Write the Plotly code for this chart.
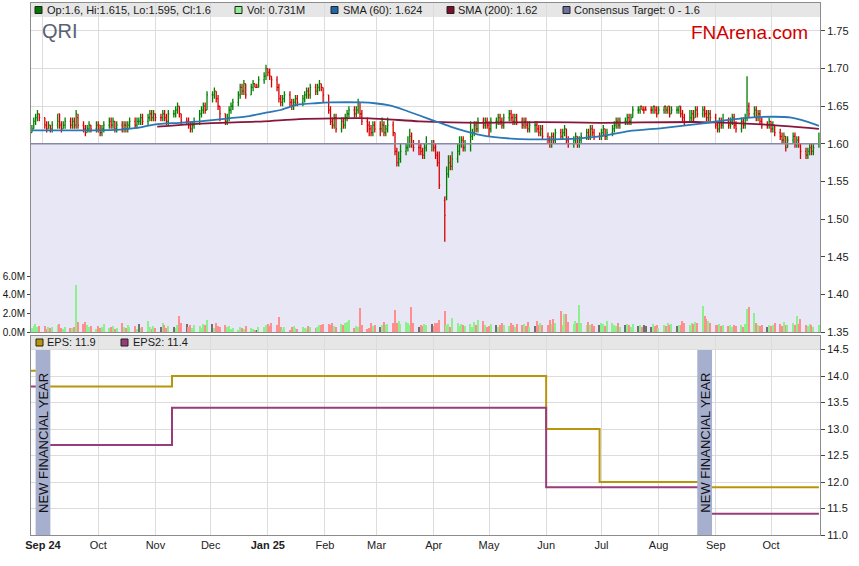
import plotly.graph_objects as go
import pandas as pd

# ------------------------------------------------------------------ data
opens = [
 1.615,1.620,1.630,1.635,1.640, 1.635,1.625,1.620,1.625,1.620, 1.625,1.640,1.625,1.620,1.625,
 1.630,1.625,1.630,1.625,1.635, 1.625,1.620,1.615,1.620,1.625, 1.620,1.625,1.625,1.615,1.620,
 1.625,1.630,1.625,1.630,1.620, 1.625,1.620,1.625,1.620,1.625, 1.630,1.625,1.630,1.630,1.635,
 1.630,1.635,1.640,1.635,1.640, 1.635,1.635,1.640,1.635,1.630, 1.640,1.640,1.645,1.650,1.640,
 1.630,1.630,1.625,1.620,1.625, 1.630,1.640,1.645,1.650,1.645, 1.665,1.665,1.670,1.660,1.650,
 1.640,1.630,1.635,1.645,1.650, 1.655,1.665,1.675,1.670,1.680, 1.665,1.675,1.680,1.675,1.675,
 1.685,1.690,1.700,1.695,1.690, 1.685,1.675,1.660,1.655,1.660, 1.665,1.655,1.650,1.655,1.660,
 1.655,1.660,1.665,1.670,1.665, 1.675,1.670,1.675,1.680,1.675, 1.665,1.645,1.630,1.625,1.635,
 1.620,1.630,1.625,1.635,1.640, 1.645,1.640,1.645,1.655,1.640, 1.630,1.625,1.620,1.615,1.625,
 1.620,1.620,1.625,1.615,1.620, 1.625,1.615,1.590,1.575,1.580, 1.590,1.595,1.600,1.610,1.600,
 1.595,1.595,1.590,1.585,1.595, 1.600,1.600,1.595,1.585,1.575, 1.525,1.530,1.560,1.575,1.570,
 1.580,1.590,1.600,1.605,1.595, 1.600,1.610,1.615,1.625,1.620, 1.630,1.625,1.630,1.625,1.620,
 1.630,1.630,1.635,1.630,1.625, 1.635,1.640,1.635,1.630,1.635, 1.630,1.625,1.630,1.625,1.620,
 1.625,1.625,1.620,1.615,1.620, 1.610,1.605,1.600,1.610,1.605, 1.615,1.610,1.615,1.620,1.605,
 1.600,1.605,1.610,1.600,1.605, 1.610,1.615,1.610,1.620,1.615, 1.610,1.610,1.615,1.620,1.610,
 1.615,1.620,1.625,1.630,1.625, 1.630,1.630,1.635,1.630,1.635, 1.645,1.645,1.650,1.645,1.645,
 1.645,1.645,1.650,1.645,1.640, 1.645,1.650,1.645,1.650,1.640, 1.645,1.645,1.650,1.640,1.635,
 1.630,1.635,1.640,1.635,1.645, 1.640,1.645,1.640,1.635,1.640, 1.635,1.625,1.620,1.630,1.625,
 1.630,1.625,1.630,1.635,1.625, 1.620,1.630,1.625,1.635,1.650, 1.640,1.645,1.635,1.640,1.630,
 1.625,1.625,1.630,1.620,1.625, 1.615,1.610,1.605,1.610,1.595, 1.605,1.610,1.600,1.605,1.600,
 1.590,1.585,1.590,1.595,1.590, 1.600,
]
highs = [
 1.625,1.635,1.640,1.645,1.640, 1.635,1.630,1.630,1.625,1.630, 1.640,1.640,1.630,1.630,1.635,
 1.635,1.635,1.635,1.645,1.640, 1.630,1.625,1.625,1.630,1.625, 1.630,1.630,1.625,1.625,1.630,
 1.635,1.635,1.635,1.630,1.630, 1.630,1.630,1.630,1.630,1.635, 1.635,1.635,1.635,1.640,1.640,
 1.640,1.645,1.645,1.645,1.640, 1.640,1.645,1.645,1.640,1.645, 1.645,1.650,1.655,1.650,1.640,
 1.635,1.635,1.630,1.630,1.635, 1.645,1.650,1.655,1.655,1.670, 1.670,1.675,1.670,1.665,1.650,
 1.640,1.640,1.650,1.655,1.660, 1.670,1.680,1.680,1.685,1.680, 1.680,1.685,1.680,1.680,1.690,
 1.695,1.705,1.700,1.700,1.690, 1.690,1.680,1.665,1.665,1.670, 1.670,1.660,1.660,1.665,1.665,
 1.665,1.670,1.675,1.675,1.680, 1.680,1.680,1.685,1.680,1.675, 1.665,1.650,1.635,1.640,1.640,
 1.635,1.635,1.640,1.645,1.650, 1.650,1.650,1.660,1.655,1.645, 1.635,1.630,1.625,1.630,1.630,
 1.630,1.635,1.630,1.625,1.635, 1.630,1.615,1.595,1.590,1.600, 1.600,1.610,1.620,1.615,1.605,
 1.605,1.600,1.595,1.600,1.610, 1.605,1.605,1.600,1.590,1.590, 1.530,1.570,1.585,1.585,1.590,
 1.600,1.610,1.610,1.610,1.605, 1.630,1.620,1.630,1.630,1.635, 1.635,1.635,1.635,1.630,1.635,
 1.635,1.640,1.640,1.635,1.640, 1.645,1.645,1.640,1.640,1.640, 1.635,1.635,1.635,1.630,1.630,
 1.630,1.630,1.625,1.625,1.625, 1.615,1.610,1.615,1.615,1.620, 1.620,1.620,1.625,1.620,1.610,
 1.610,1.615,1.610,1.610,1.615, 1.620,1.620,1.625,1.625,1.620, 1.615,1.620,1.625,1.620,1.620,
 1.625,1.630,1.635,1.635,1.635, 1.635,1.640,1.640,1.640,1.650, 1.650,1.650,1.650,1.650,1.650,
 1.650,1.650,1.650,1.650,1.650, 1.650,1.650,1.650,1.650,1.650, 1.650,1.650,1.650,1.645,1.640,
 1.645,1.645,1.645,1.650,1.650, 1.650,1.650,1.645,1.645,1.645, 1.640,1.630,1.635,1.635,1.640,
 1.635,1.635,1.640,1.640,1.630, 1.635,1.635,1.640,1.690,1.655, 1.650,1.650,1.645,1.645,1.635,
 1.630,1.635,1.630,1.630,1.625, 1.620,1.615,1.615,1.610,1.610, 1.615,1.615,1.610,1.610,1.600,
 1.595,1.595,1.600,1.600,1.600, 1.615,
]
lows = [
 1.615,1.620,1.625,1.630,1.630, 1.620,1.615,1.620,1.615,1.615, 1.620,1.620,1.615,1.620,1.620,
 1.620,1.620,1.620,1.620,1.620, 1.615,1.610,1.615,1.615,1.615, 1.615,1.615,1.610,1.610,1.615,
 1.620,1.620,1.620,1.615,1.615, 1.615,1.615,1.615,1.615,1.620, 1.620,1.620,1.625,1.625,1.625,
 1.625,1.630,1.630,1.630,1.630, 1.630,1.630,1.630,1.625,1.625, 1.635,1.635,1.640,1.635,1.625,
 1.625,1.620,1.615,1.615,1.620, 1.625,1.635,1.640,1.640,1.645, 1.655,1.660,1.655,1.645,1.630,
 1.625,1.625,1.630,1.640,1.645, 1.650,1.660,1.665,1.665,1.660, 1.665,1.670,1.675,1.675,1.675,
 1.680,1.685,1.690,1.685,1.675, 1.670,1.655,1.650,1.650,1.655, 1.650,1.645,1.645,1.650,1.650,
 1.650,1.655,1.660,1.660,1.660, 1.665,1.665,1.670,1.670,1.655, 1.640,1.625,1.620,1.620,1.615,
 1.615,1.620,1.620,1.630,1.635, 1.635,1.635,1.640,1.635,1.625, 1.615,1.610,1.610,1.610,1.615,
 1.610,1.615,1.610,1.610,1.615, 1.610,1.585,1.570,1.570,1.575, 1.585,1.590,1.595,1.595,1.590,
 1.585,1.585,1.580,1.580,1.590, 1.590,1.590,1.580,1.570,1.540, 1.470,1.525,1.555,1.565,1.565,
 1.575,1.585,1.595,1.590,1.590, 1.590,1.605,1.610,1.615,1.615, 1.620,1.620,1.620,1.610,1.615,
 1.620,1.625,1.625,1.620,1.620, 1.630,1.630,1.625,1.625,1.625, 1.620,1.620,1.620,1.615,1.615,
 1.615,1.615,1.610,1.610,1.605, 1.600,1.595,1.595,1.600,1.600, 1.605,1.605,1.610,1.600,1.595,
 1.595,1.600,1.595,1.595,1.600, 1.605,1.605,1.605,1.610,1.605, 1.605,1.605,1.610,1.605,1.605,
 1.610,1.615,1.620,1.620,1.620, 1.625,1.625,1.625,1.625,1.635, 1.640,1.640,1.645,1.640,1.645,
 1.640,1.640,1.640,1.635,1.640, 1.640,1.640,1.640,1.635,1.640, 1.640,1.640,1.635,1.630,1.625,
 1.630,1.630,1.630,1.635,1.635, 1.635,1.635,1.630,1.630,1.630, 1.620,1.615,1.615,1.620,1.620,
 1.620,1.620,1.625,1.620,1.615, 1.615,1.620,1.620,1.630,1.635, 1.635,1.630,1.630,1.625,1.620,
 1.620,1.620,1.615,1.615,1.610, 1.605,1.600,1.600,1.590,1.595, 1.600,1.595,1.595,1.595,1.580,
 1.580,1.580,1.585,1.585,1.585, 1.595,
]
closes = [
 1.620,1.630,1.635,1.640,1.635, 1.625,1.620,1.625,1.620,1.625, 1.630,1.625,1.620,1.625,1.630,
 1.625,1.630,1.625,1.640,1.625, 1.620,1.615,1.620,1.625,1.620, 1.625,1.620,1.615,1.620,1.625,
 1.630,1.625,1.630,1.620,1.625, 1.620,1.625,1.620,1.625,1.630, 1.625,1.630,1.630,1.635,1.630,
 1.635,1.640,1.635,1.640,1.635, 1.635,1.640,1.635,1.630,1.640, 1.640,1.645,1.650,1.640,1.630,
 1.630,1.625,1.620,1.625,1.630, 1.640,1.645,1.650,1.645,1.665, 1.665,1.670,1.660,1.650,1.640,
 1.630,1.635,1.645,1.650,1.655, 1.665,1.675,1.670,1.680,1.665, 1.675,1.680,1.675,1.675,1.685,
 1.690,1.700,1.695,1.690,1.685, 1.675,1.660,1.655,1.660,1.665, 1.655,1.650,1.655,1.660,1.655,
 1.660,1.665,1.670,1.665,1.675, 1.670,1.675,1.680,1.675,1.665, 1.645,1.630,1.625,1.635,1.620,
 1.630,1.625,1.635,1.640,1.645, 1.640,1.645,1.655,1.640,1.630, 1.625,1.620,1.615,1.625,1.620,
 1.620,1.625,1.615,1.620,1.625, 1.615,1.590,1.575,1.580,1.590, 1.595,1.600,1.610,1.600,1.595,
 1.595,1.590,1.585,1.595,1.600, 1.600,1.595,1.585,1.575,1.545, 1.505,1.560,1.575,1.570,1.580,
 1.590,1.600,1.605,1.595,1.600, 1.610,1.615,1.625,1.620,1.630, 1.625,1.630,1.625,1.620,1.630,
 1.630,1.635,1.630,1.625,1.635, 1.640,1.635,1.630,1.635,1.630, 1.625,1.630,1.625,1.620,1.625,
 1.625,1.620,1.615,1.620,1.610, 1.605,1.600,1.610,1.605,1.615, 1.610,1.615,1.620,1.605,1.600,
 1.605,1.610,1.600,1.605,1.610, 1.615,1.610,1.620,1.615,1.610, 1.610,1.615,1.620,1.610,1.615,
 1.620,1.625,1.630,1.625,1.630, 1.630,1.635,1.630,1.635,1.645, 1.645,1.650,1.645,1.645,1.645,
 1.645,1.650,1.645,1.640,1.645, 1.650,1.645,1.650,1.640,1.645, 1.645,1.650,1.640,1.635,1.630,
 1.635,1.640,1.635,1.645,1.640, 1.645,1.640,1.635,1.640,1.635, 1.625,1.620,1.630,1.625,1.630,
 1.625,1.630,1.635,1.625,1.620, 1.630,1.625,1.635,1.645,1.640, 1.645,1.635,1.640,1.630,1.625,
 1.625,1.630,1.620,1.625,1.615, 1.610,1.605,1.610,1.595,1.605, 1.610,1.600,1.605,1.600,1.590,
 1.585,1.590,1.595,1.590,1.595, 1.600,
]
volumes_m = [
 0.4,0.6,0.9,0.5,0.6, 0.6,0.3,0.5,0.4,0.5, 0.7,0.9,0.4,0.3,0.5, 0.4,0.4,0.5,5.0,1.1,
 0.85,1.1,0.7,0.5,0.6, 0.3,0.6,0.4,0.5,0.9, 0.4,0.5,0.6,0.3,0.4, 1.0,0.5,0.4,0.7,0.5,
 0.6,0.3,0.9,0.4,0.5, 1.2,0.5,0.3,0.6,0.4, 0.5,1.0,0.8,0.4,0.6, 0.5,0.4,0.7,1.7,1.0,
 0.9,0.5,0.7,0.4,0.8, 0.6,0.4,0.9,0.7,1.3, 0.9,0.4,1.0,0.6,0.5, 0.8,0.5,0.6,0.3,0.4,
 0.2,0.5,0.4,0.3,0.6, 0.4,0.3,0.2,0.2,0.5, 0.5,0.7,0.9,0.6,1.0, 0.8,1.6,0.5,0.3,0.5,
 0.2,0.5,0.6,0.4,0.3, 0.5,0.4,0.3,0.6,0.5, 0.4,0.5,0.8,0.7,0.9, 0.9,0.7,1.0,0.6,0.5,
 0.9,0.8,1.0,1.1,1.3, 0.4,0.6,0.5,2.6,0.8, 0.3,0.4,1.0,0.6,0.7, 0.5,0.8,1.1,0.7,0.9,
 1.0,2.4,1.0,1.2,0.9, 1.1,1.0,0.7,2.7,1.0, 0.5,0.8,0.6,0.9,0.7, 0.9,0.6,1.0,1.0,1.3,
 2.3,0.8,0.9,0.5,1.5, 1.0,0.6,0.9,0.7,0.6, 0.9,0.5,1.1,0.8,1.3, 1.2,0.7,0.5,0.6,0.9,
 0.8,0.5,0.8,1.0,0.7, 0.6,1.0,0.8,0.5,0.9, 0.7,0.9,0.6,1.1,0.5, 0.6,1.2,0.7,1.0,0.8,
 0.7,1.3,0.9,1.4,1.0, 2.3,0.8,1.9,1.9,1.1, 0.9,1.2,1.0,2.9,1.0, 0.8,1.1,0.7,0.9,0.6,
 0.7,1.0,0.9,0.6,1.2, 1.0,0.8,0.6,1.0,0.5, 0.7,0.9,0.8,0.5,0.9, 0.6,0.8,0.5,0.7,0.6,
 0.5,0.9,0.6,0.7,0.4, 0.8,0.6,1.0,0.7,0.9, 0.6,0.8,0.7,1.2,1.0, 0.8,1.0,0.9,1.1,1.0,
 2.8,1.7,1.4,1.2,1.0, 0.8,0.7,0.9,0.6,0.7, 0.6,0.8,0.5,0.7,0.6, 0.7,0.5,0.9,2.5,2.7,
 2.0,1.0,0.8,0.6,0.7, 0.5,0.7,0.6,0.8,1.0, 0.9,0.6,1.1,0.8,0.7, 1.0,0.8,1.7,0.9,1.35,
 0.8,0.6,0.9,0.7,0.5, 0.731,
]
trade_dates = pd.bdate_range('2024-08-26', periods=len(closes))

sma60_dates = ['2024-08-26','2024-09-10','2024-09-26','2024-10-13','2024-10-24','2024-11-01',
               '2024-11-14','2024-11-25','2024-12-11','2024-12-22','2024-12-30','2025-01-08',
               '2025-01-17','2025-01-27','2025-02-04','2025-02-21','2025-02-28','2025-03-08',
               '2025-03-16','2025-03-24','2025-04-02','2025-04-10','2025-04-18','2025-04-26',
               '2025-05-04','2025-05-13','2025-05-23','2025-06-03','2025-06-17','2025-06-30',
               '2025-07-16','2025-08-03','2025-08-24','2025-09-15','2025-10-01','2025-10-12',
               '2025-10-20','2025-10-27']
sma60_vals = [1.618,1.618,1.618,1.619,1.622,1.626,1.628,1.630,1.634,1.637,1.641,1.645,
              1.652,1.654,1.655,1.655,1.654,1.651,1.645,1.638,1.630,1.623,1.617,1.612,
              1.609,1.607,1.606,1.606,1.607,1.610,1.617,1.621,1.627,1.634,1.636,1.635,
              1.630,1.624]
sma200_dates = ['2024-11-02','2024-11-25','2024-12-30','2025-01-18','2025-02-25','2025-03-24',
                '2025-04-26','2025-05-29','2025-06-30','2025-08-24','2025-09-26','2025-10-27']
sma200_vals = [1.623,1.627,1.630,1.633,1.634,1.630,1.628,1.629,1.628,1.629,1.626,1.620]

target_low, target_high = 0.0, 1.6

eps_dates = ['2024-08-25','2024-09-01','2024-11-10','2025-06-01','2025-06-30','2025-08-26','2025-10-27']
eps_vals = [14.1, 13.8, 14.0, 13.0, 12.0, 11.9, 11.9]
eps2_dates = ['2024-08-25','2024-09-01','2024-11-10','2025-06-01','2025-08-26','2025-10-27']
eps2_vals = [13.8, 12.7, 13.4, 11.9, 11.4, 11.4]

fy_bands = [('2024-08-28', '2024-09-05'), ('2025-08-22', '2025-08-30')]

month_ticks = ['2024-09-01','2024-10-01','2024-11-01','2024-12-01','2025-01-01','2025-02-01',
               '2025-03-01','2025-04-01','2025-05-01','2025-06-01','2025-07-01','2025-08-01',
               '2025-09-01','2025-10-01']
month_labels = ['<b>Sep 24</b>','Oct','Nov','Dec','<b>Jan 25</b>','Feb','Mar','Apr','May','Jun',
                'Jul','Aug','Sep','Oct']
price_ticks = [1.35,1.40,1.45,1.50,1.55,1.60,1.65,1.70,1.75]
vol_ticks = [0, 2, 4, 6]
eps_ticks = [11.0,11.5,12.0,12.5,13.0,13.5,14.0,14.5]

legend_top = [('Op:1.6, Hi:1.615, Lo:1.595, Cl:1.6', '#007800', 35, 47),
              ('Vol: 0.731M', '#90EE90', 235, 247),
              ('SMA (60): 1.624', '#1F66A8', 331, 343),
              ('SMA (200): 1.62', '#7A0F2E', 447, 458),
              ('Consensus Target: 0 - 1.6', '#6F6FA0', 563, 574)]
legend_bot = [('EPS: 11.9', '#B8960C', 36, 47), ('EPS2: 11.4', '#993D7A', 121, 133)]

# ------------------------------------------------------------------ geometry
W, H = 859, 566
PX0, PX1, PY0, PY1 = 31, 820, 3, 535
TOP_BOT, BOT_TOP = 332, 336
view = ['2024-08-25 12:00', '2025-10-27 14:00']
FONT = 'Liberation Sans, Arial, sans-serif'
GRID = '#DCDCDC'
FRAME = '#8C8C8C'

def fx(px):
    return (px - PX0) / (PX1 - PX0)

def fy(py):
    return (PY1 - py) / (PY1 - PY0)

# volume colours from close-to-close change
vol_colors = []
for i, c in enumerate(closes):
    prev = closes[i - 1] if i > 0 else opens[0]
    if c > prev + 1e-9:
        vol_colors.append('#8CF08C')
    elif c < prev - 1e-9:
        vol_colors.append('#FF8F8F')
    else:
        vol_colors.append('#707070')

v0, v1 = pd.Timestamp(view[0]), pd.Timestamp(view[1])
view_mid = v0 + (v1 - v0) / 2
view_ms = (v1 - v0).total_seconds() * 1000

fig = go.Figure()

# consensus target band (a bar spanning the view, drawn under the price bars)
fig.add_trace(go.Bar(x=[view_mid], y=[target_high - target_low], base=[target_low],
                     width=[view_ms], marker=dict(color='#E7E7F6', line=dict(width=0)),
                     xaxis='x', yaxis='y', hoverinfo='skip'))

fig.add_trace(go.Ohlc(x=trade_dates, open=opens, high=highs, low=lows, close=closes,
                      increasing=dict(line=dict(color='#008000', width=1.3)),
                      decreasing=dict(line=dict(color='#D80000', width=1.3)),
                      tickwidth=0.5, xaxis='x', yaxis='y'))

# consensus target upper line
fig.add_trace(go.Scatter(x=view, y=[target_high, target_high], mode='lines',
                         line=dict(color='#8787AA', width=1.5),
                         xaxis='x', yaxis='y', hoverinfo='skip'))

fig.add_trace(go.Scatter(x=sma200_dates, y=sma200_vals, mode='lines',
                         line=dict(color='#86163A', width=1.8, shape='spline', smoothing=0.6),
                         xaxis='x', yaxis='y'))
fig.add_trace(go.Scatter(x=sma60_dates, y=sma60_vals, mode='lines',
                         line=dict(color='#2A78B6', width=1.8, shape='spline', smoothing=0.6),
                         xaxis='x', yaxis='y'))

fig.add_trace(go.Bar(x=trade_dates, y=volumes_m, marker=dict(color=vol_colors, line=dict(width=0)),
                     width=0.7 * 86400000, xaxis='x', yaxis='y3'))

fig.add_trace(go.Scatter(x=eps_dates, y=eps_vals, mode='lines',
                         line=dict(color='#B8960C', width=2, shape='hv'),
                         xaxis='x2', yaxis='y2'))
fig.add_trace(go.Scatter(x=eps2_dates, y=eps2_vals, mode='lines',
                         line=dict(color='#993D7A', width=2, shape='hv'),
                         xaxis='x2', yaxis='y2'))

shapes = []
annotations = []

# legend strips
shapes.append(dict(type='rect', xref='x domain', yref='y domain', x0=0, x1=1,
                   y0=(TOP_BOT - 17) / (TOP_BOT - PY0), y1=1,
                   fillcolor='#E6E6E6', line=dict(width=0), layer='below'))
shapes.append(dict(type='rect', xref='x2 domain', yref='y2 domain', x0=0, x1=1,
                   y0=(PY1 - 349) / (PY1 - BOT_TOP), y1=1,
                   fillcolor='#E6E6E6', line=dict(width=0), layer='below'))

def legend_row(items, ycenter):
    for text, col, sqx, tx in items:
        shapes.append(dict(type='rect', xref='paper', yref='paper',
                           x0=fx(sqx), x1=fx(sqx + 7), y0=fy(ycenter + 3.5), y1=fy(ycenter - 3.5),
                           fillcolor=col, line=dict(color='#222222', width=1), layer='above'))
        annotations.append(dict(text=text, xref='paper', yref='paper', x=fx(tx - 2), y=fy(ycenter),
                                xanchor='left', yanchor='middle', showarrow=False,
                                font=dict(family=FONT, size=11, color='#1A1A1A')))

legend_row(legend_top, 10)
legend_row(legend_bot, 342.5)

# new financial year bands
for a, b in fy_bands:
    shapes.append(dict(type='rect', xref='x2', yref='y2 domain', x0=a, x1=b,
                       y0=0, y1=(PY1 - 350) / (PY1 - BOT_TOP),
                       fillcolor='#A7AFCF', line=dict(width=0), layer='above'))
    mid = pd.Timestamp(a) + (pd.Timestamp(b) - pd.Timestamp(a)) / 2
    annotations.append(dict(text='NEW FINANCIAL YEAR', xref='x2', yref='paper', x=mid, y=fy(443),
                            xanchor='center', yanchor='middle', textangle=-90, showarrow=False,
                            font=dict(family=FONT, size=13, color='#111111')))

annotations.append(dict(text='QRI', xref='paper', yref='paper', x=fx(40), y=fy(31),
                        xanchor='left', yanchor='middle', showarrow=False,
                        font=dict(family=FONT, size=20, color='#5A6272')))
annotations.append(dict(text='FNArena.com', xref='paper', yref='paper', x=fx(810), y=fy(33),
                        xanchor='right', yanchor='middle', showarrow=False,
                        font=dict(family=FONT, size=19, color='#D20000')))

tickfont = dict(family=FONT, size=11, color='#222222')
volfont = dict(family=FONT, size=10, color='#111111')

fig.update_layout(
    width=W, height=H,
    margin=dict(l=PX0, r=W - PX1, t=PY0, b=H - PY1, pad=0, autoexpand=False),
    paper_bgcolor='white', plot_bgcolor='white',
    showlegend=False, bargap=0,
    font=dict(family=FONT, size=11, color='#222222'),
    xaxis=dict(domain=[0, 1], anchor='y', type='date', range=view, automargin=False,
               tickvals=month_ticks, showticklabels=False, ticks='',
               showgrid=True, gridcolor=GRID, gridwidth=1, zeroline=False,
               showline=True, mirror=True, linecolor=FRAME, linewidth=1,
               rangeslider=dict(visible=False)),
    xaxis2=dict(domain=[0, 1], anchor='y2', type='date', range=view, matches='x', automargin=False,
                tickvals=month_ticks, ticktext=month_labels, ticks='', tickfont=tickfont,
                showgrid=True, gridcolor=GRID, gridwidth=1, zeroline=False,
                showline=True, mirror=True, linecolor=FRAME, linewidth=1,
                rangeslider=dict(visible=False)),
    yaxis=dict(domain=[fy(TOP_BOT), 1], anchor='x', side='right', automargin=False,
               range=[1.35, 1.75 + 28 / 753], tickvals=price_ticks,
               ticktext=[f'{v:.2f}' for v in price_ticks], tickfont=tickfont,
               ticks='outside', ticklen=4, tickcolor='#444444',
               showgrid=True, gridcolor=GRID, zeroline=False,
               showline=True, mirror=True, linecolor=FRAME, linewidth=1),
    yaxis3=dict(overlaying='y', anchor='x', side='left', automargin=False,
                range=[0, (TOP_BOT - PY0) / 9.33], tickvals=vol_ticks,
                ticktext=[f'{v:.1f}M' for v in vol_ticks], tickfont=volfont,
                ticks='outside', ticklen=3, tickcolor='#444444',
                showgrid=False, zeroline=False, showline=False),
    yaxis2=dict(domain=[0, fy(BOT_TOP)], anchor='x2', side='right', automargin=False,
                range=[11.0, 11.0 + (PY1 - BOT_TOP) / 53.0], tickvals=eps_ticks,
                ticktext=[f'{v:.1f}' for v in eps_ticks], tickfont=tickfont,
                ticks='outside', ticklen=4, tickcolor='#444444',
                showgrid=True, gridcolor=GRID, zeroline=False,
                showline=True, mirror=True, linecolor=FRAME, linewidth=1),
    shapes=shapes, annotations=annotations,
)

fig.write_html('out.html', config={'displayModeBar': False},
               post_script="document.body.style.margin='0px';document.body.style.padding='0px';")
